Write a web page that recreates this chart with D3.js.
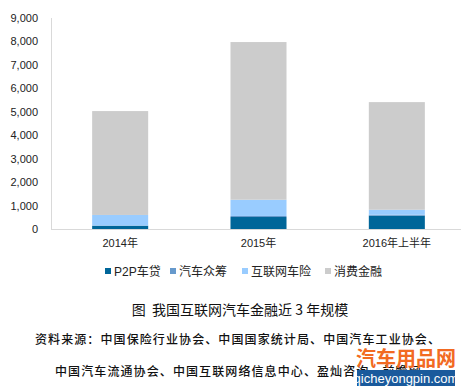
<!DOCTYPE html>
<html>
<head>
<meta charset="utf-8">
<script src="https://cdn.jsdelivr.net/npm/d3@7"></script>
<style>
  body { margin: 0; background: #fff; }
  svg { display: block; }
</style>
</head>
<body>
<svg id="chart"></svg>
<script>
// 数据
var years = ['2014年', '2015年', '2016年上半年'];
var seriesNames = ['P2P车贷', '汽车众筹', '互联网车险', '消费金融'];
var p2p = [140, 510, 565];
var crowd = [8, 45, 40];
var insurance = [450, 690, 215];
var consumer = [4420, 6710, 4580];
var yTicks = [0, 1000, 2000, 3000, 4000, 5000, 6000, 7000, 8000, 9000];
var colors = ['#006699', '#6699cc', '#99ccff', '#cccccc'];

var draw = function(){
    var width = 461, height = 386;
    var svg = d3.select('svg#chart')
    .attr('width', width)
    .attr('height', height);

    var rows = years.map(function(y, i){
        return {year: y, 'P2P车贷': p2p[i], '汽车众筹': crowd[i], '互联网车险': insurance[i], '消费金融': consumer[i]};
    });
    var stacked = d3.stack().keys(seriesNames)(rows);

    var xScale = d3.scaleBand()
    .domain(years)
    .range([51, 466])
    .paddingInner(0.595)
    .paddingOuter(0.2975);

    var yScale = d3.scaleLinear()
    .domain([0, 9000])
    .range([229, 17.5]);

    // bars
    svg.append('g').selectAll('g')
    .data(stacked)
    .enter().append('g')
    .attr('fill', function(d, i){ return colors[i]; })
    .selectAll('rect')
    .data(function(d){ return d; })
    .enter().append('rect')
    .attr('x', function(d){ return xScale(d.data.year); })
    .attr('width', xScale.bandwidth())
    .attr('y', function(d){ return yScale(d[1]); })
    .attr('height', function(d){ return yScale(d[0]) - yScale(d[1]); });

    // y axis
    var yAxis = svg.append('g')
    .attr('transform', 'translate(51,0)')
    .call(d3.axisLeft(yScale).tickValues(yTicks).tickSize(0).tickPadding(13).tickFormat(d3.format(',')));
    yAxis.select('.domain').attr('stroke', '#d9d9d9');
    yAxis.selectAll('text').attr('font-family', 'Liberation Sans, Arial, sans-serif')
    .attr('font-size', 11).attr('fill', '#222');

    // x axis
    var xAxis = svg.append('g')
    .attr('transform', 'translate(0,229)')
    .call(d3.axisBottom(xScale).tickSize(0).tickPadding(10));
    xAxis.select('.domain').attr('stroke', '#d9d9d9').attr('d', 'M51,0.5H461');
    xAxis.selectAll('text').attr('font-family', 'Liberation Sans, "Noto Sans CJK SC", sans-serif')
    .attr('font-size', 11).attr('fill', '#222');

    // legend
    var legendX = [105, 170, 242, 325];
    var legend = svg.append('g').selectAll('g')
    .data(seriesNames)
    .enter().append('g')
    .attr('transform', function(d, i){ return 'translate(' + legendX[i] + ',268)'; });
    legend.append('rect')
    .attr('width', 6).attr('height', 6)
    .attr('fill', function(d, i){ return colors[i]; });
    legend.append('text')
    .attr('x', 9).attr('y', 7.5)
    .attr('font-family', 'Liberation Sans, "Noto Sans CJK SC", sans-serif')
    .attr('font-size', 12).attr('fill', '#222')
    .text(function(d){ return d; });

    // caption
    svg.append('text')
    .attr('x', 240).attr('y', 315)
    .attr('text-anchor', 'middle')
    .attr('font-family', '"Noto Sans CJK SC", sans-serif')
    .attr('font-size', 14).attr('fill', '#111')
    .attr('xml:space', 'preserve')
    .text('图  我国互联网汽车金融近 3 年规模');

    svg.append('text')
    .attr('x', 238).attr('y', 344)
    .attr('text-anchor', 'middle')
    .attr('font-family', '"Noto Sans CJK SC", sans-serif')
    .attr('font-size', 12).attr('font-weight', 500).attr('letter-spacing', 1.1).attr('fill', '#111')
    .text('资料来源：中国保险行业协会、中国国家统计局、中国汽车工业协会、');

    svg.append('text')
    .attr('x', 55).attr('y', 376)
    .attr('font-family', '"Noto Sans CJK SC", sans-serif')
    .attr('font-size', 12).attr('font-weight', 500).attr('letter-spacing', 1.1).attr('fill', '#111')
    .text('中国汽车流通协会、中国互联网络信息中心、盈灿咨询、前瞻网');

    // watermark
    svg.append('rect')
    .attr('x', 357).attr('y', 370).attr('width', 98).attr('height', 16)
    .attr('fill', '#1a5a9c');
    svg.append('text')
    .attr('x', 406).attr('y', 382.5)
    .attr('text-anchor', 'middle')
    .attr('font-family', 'Liberation Sans, Arial, sans-serif')
    .attr('font-size', 13).attr('fill', '#fff')
    .text('qicheyongpin.com');
    svg.append('text')
    .attr('x', 406).attr('y', 366)
    .attr('text-anchor', 'middle')
    .attr('font-family', '"Noto Sans CJK SC", sans-serif')
    .attr('font-size', 20).attr('font-weight', 'bold').attr('fill', '#f26a22')
    .text('汽车用品网');
}

draw();
</script>
</body>
</html>
